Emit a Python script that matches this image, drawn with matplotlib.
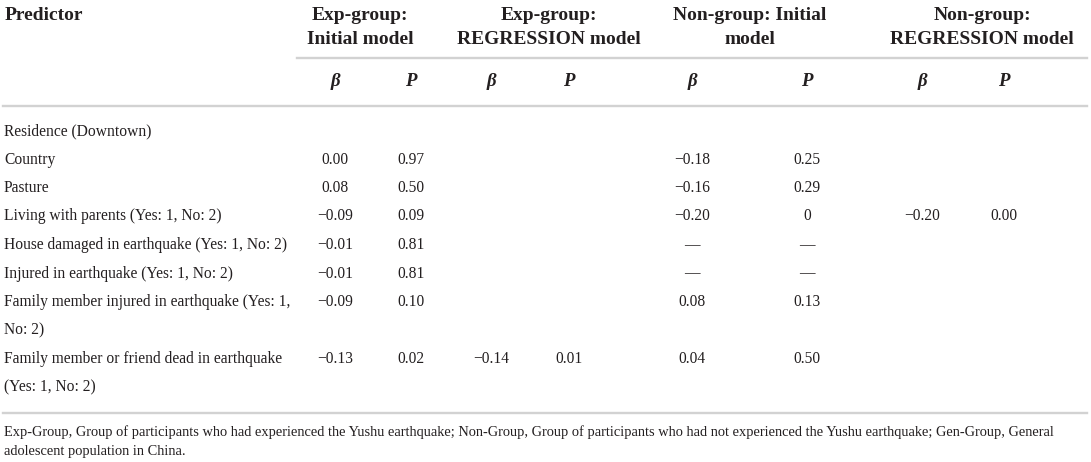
import matplotlib
matplotlib.use("Agg")
import matplotlib.pyplot as plt
from matplotlib.lines import Line2D

plt.rcParams.update({
    'font.family': ['Liberation Serif', 'DejaVu Serif'],
})

W, H = 1091, 462

# table content
group_headers = [
    ["Exp-group:", "Initial model"],
    ["Exp-group:", "REGRESSION model"],
    ["Non-group: Initial", "model"],
    ["Non-group:", "REGRESSION model"],
]
sub_headers = ["β", "P", "β", "P", "β", "P", "β", "P"]

predictors = [
    ["Residence (Downtown)"],
    ["Country"],
    ["Pasture"],
    ["Living with parents (Yes: 1, No: 2)"],
    ["House damaged in earthquake (Yes: 1, No: 2)"],
    ["Injured in earthquake (Yes: 1, No: 2)"],
    ["Family member injured in earthquake (Yes: 1,", "No: 2)"],
    ["Family member or friend dead in earthquake", "(Yes: 1, No: 2)"],
]

exp_init_beta = ["", "0.00", "0.08", "−0.09", "−0.01", "−0.01", "−0.09", "−0.13"]
exp_init_p = ["", "0.97", "0.50", "0.09", "0.81", "0.81", "0.10", "0.02"]
exp_reg_beta = ["", "", "", "", "", "", "", "−0.14"]
exp_reg_p = ["", "", "", "", "", "", "", "0.01"]
non_init_beta = ["", "−0.18", "−0.16", "−0.20", "—", "—", "0.08", "0.04"]
non_init_p = ["", "0.25", "0.29", "0", "—", "—", "0.13", "0.50"]
non_reg_beta = ["", "", "", "−0.20", "", "", "", ""]
non_reg_p = ["", "", "", "0.00", "", "", "", ""]

footnote = [
    "Exp-Group, Group of participants who had experienced the Yushu earthquake; "
    "Non-Group, Group of participants who had not experienced the Yushu earthquake; "
    "Gen-Group, General",
    "adolescent population in China.",
]

# layout (pixels)
col_x = [335, 411, 491, 569, 692, 807, 922, 1004]
group_x = [360, 549, 750, 982]
row_pitch = 28.5
first_row_y = 131
rule_color = '#d2d2d2'
text_color = '#231f20'

fig = plt.figure(figsize=(W / 100, H / 100), dpi=100)


def fx(x):
    return x / W


def fy(y):
    return 1 - y / H


def text(x, y, s, **kw):
    kw.setdefault('color', text_color)
    kw.setdefault('va', 'center')
    fig.text(fx(x), fy(y), s, **kw)


def rule(x0, x1, y):
    fig.add_artist(Line2D([fx(x0), fx(x1)], [fy(y), fy(y)],
                          transform=fig.transFigure, color=rule_color, lw=1.7))


# header
text(5, 15, "Predictor", fontsize=14, fontweight='bold', ha='left')
for gx, lines in zip(group_x, group_headers):
    text(gx, 15, lines[0], fontsize=14, fontweight='bold', ha='center')
    text(gx, 39, lines[1], fontsize=14, fontweight='bold', ha='center')
rule(297, 1087, 58)
for cx, s in zip(col_x, sub_headers):
    text(cx, 81, s, fontsize=13.5, fontweight='bold', fontstyle='italic', ha='center')
rule(3, 1087, 106)

# body
columns = [exp_init_beta, exp_init_p, exp_reg_beta, exp_reg_p,
           non_init_beta, non_init_p, non_reg_beta, non_reg_p]
y = first_row_y
for i, lines in enumerate(predictors):
    for j, line in enumerate(lines):
        text(4, y + j * row_pitch, line, fontsize=11.2, ha='left')
    for cx, col in zip(col_x, columns):
        if col[i]:
            text(cx, y, col[i], fontsize=11.2, ha='center')
    y += row_pitch * len(lines)

rule(3, 1087, 413)

# footnote
text(4, 432, footnote[0], fontsize=10.4, ha='left')
text(4, 451, footnote[1], fontsize=10.4, ha='left')

fig.savefig('out.png', dpi=100, facecolor='white')
